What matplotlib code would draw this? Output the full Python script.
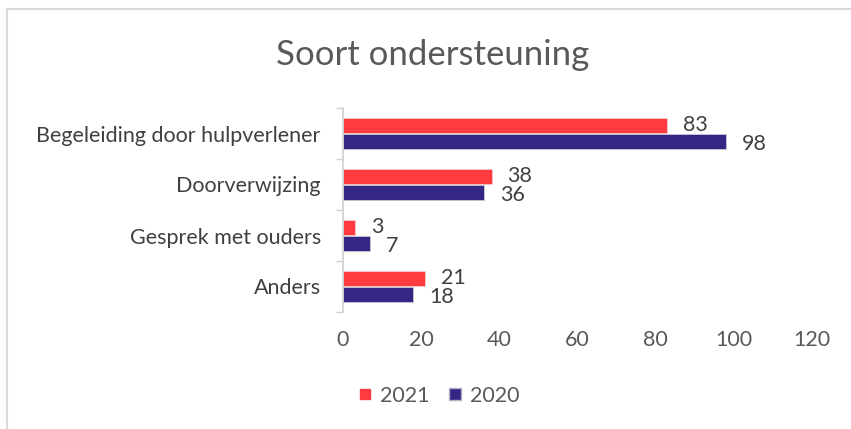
import numpy as np
import matplotlib.pyplot as plt
from matplotlib.patches import Rectangle
from matplotlib.lines import Line2D

plt.rcParams['font.family'] = ['Lato', 'DejaVu Sans']

categories = ['Begeleiding door hulpverlener', 'Doorverwijzing', 'Gesprek met ouders', 'Anders']
vals_2021 = [83, 38, 3, 21]
vals_2020 = [98, 36, 7, 18]
series = ['2021', '2020']
RED = '#FF3B40'
BLUE = '#342685'
TXT = '#404040'
GREY = '#595959'
FS = 15.5

W, H = 851, 429
fig = plt.figure(figsize=(W / 100, H / 100), dpi=100)
ax = fig.add_axes([343 / W, 1 - 312 / H, (812 - 343) / W, (312 - 108) / H])

y = np.arange(len(categories))
h = 0.30
off = 0.16
ax.barh(y - off, vals_2021, height=h, color=RED, edgecolor='#e8e0e0', linewidth=0.4)
ax.barh(y + off, vals_2020, height=h, color=BLUE, edgecolor='#c8c8d0', linewidth=0.6)

for yi, v in zip(y, vals_2021):
    ax.annotate(f'{v}', xy=(v, yi - off), xytext=(16, 0.5), textcoords='offset pixels',
                ha='left', va='center', fontsize=FS, color=TXT)
for yi, v in zip(y, vals_2020):
    ax.annotate(f'{v}', xy=(v, yi + off), xytext=(16, -2.5), textcoords='offset pixels',
                ha='left', va='center', fontsize=FS, color=TXT)

ax.set_xlim(0, 120)
ax.set_ylim(len(categories) - 0.5, -0.5)
ax.set_xticks(np.arange(0, 121, 20))
ax.set_yticks(np.arange(-0.5, len(categories), 1), minor=False)
ax.set_yticklabels([])
ax.set_yticks(y, minor=True)
ax.set_yticklabels(categories, minor=True)
ax.tick_params(axis='y', which='major', length=5, width=1, color='#d0d0d0', direction='out')
ax.tick_params(axis='y', which='minor', length=0, pad=16, labelsize=FS, labelcolor=TXT)
ax.tick_params(axis='x', length=0, pad=13, labelsize=FS, labelcolor=GREY)
for s in ['top', 'right', 'bottom']:
    ax.spines[s].set_visible(False)
ax.spines['left'].set_color('#d0d0d0')
ax.spines['left'].set_linewidth(1.2)

fig.text(433 / W, 1 - 55 / H, 'Soort ondersteuning', ha='center', va='center',
         fontsize=25, color=GREY)

handles = [Line2D([], [], ls='none', marker='s', ms=7, color=RED, mec=RED),
           Line2D([], [], ls='none', marker='s', ms=9, color=BLUE, mec='#b0b0c0')]
fig.legend(handles, series, loc='center', bbox_to_anchor=(438 / W, 1 - 396 / H), ncol=2,
           frameon=False, fontsize=FS, labelcolor=GREY, handletextpad=0.3,
           columnspacing=0.8, handlelength=0.8)

fig.add_artist(Rectangle((6.5 / W, -0.05), 1.2, 1.05 - 8.5 / H, transform=fig.transFigure,
                         fill=False, edgecolor='#d9d9d9', linewidth=1.5))

fig.savefig('out.png', dpi=100)
